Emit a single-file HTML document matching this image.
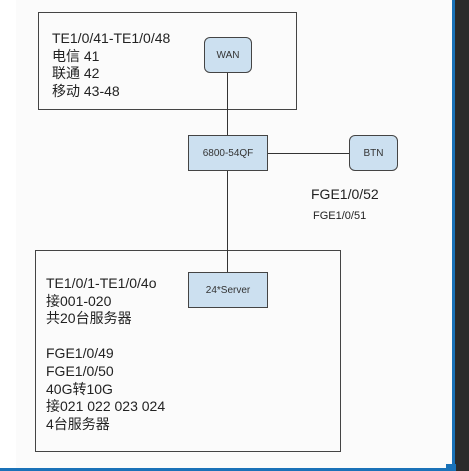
<!DOCTYPE html>
<html><head><meta charset="utf-8"><style>
*{margin:0;padding:0;box-sizing:border-box}
body{width:469px;height:471px;background:#fff;position:relative;overflow:hidden;font-family:"Liberation Sans","Noto Sans CJK SC",sans-serif;color:#222}
.a{position:absolute}
.box{position:absolute;border:1.3px solid #444}
.node{position:absolute;background:#cce0f0;border:1.3px solid #444;display:flex;align-items:center;justify-content:center;font-size:10px;color:#333}
.r{border-radius:6px}
.t{position:absolute;font-size:14px;line-height:17.6px;white-space:pre}
</style></head><body>
<div class="a" style="left:16px;top:0;width:436px;height:468px;background:#fbfbfb"></div>
<div class="box" style="left:38px;top:12px;width:259px;height:98px"></div>
<div class="box" style="left:35px;top:250px;width:306px;height:202px"></div>
<div class="a" style="left:227px;top:72px;width:1.3px;height:63px;background:#333"></div>
<div class="a" style="left:227px;top:170px;width:1.3px;height:102px;background:#333"></div>
<div class="a" style="left:267px;top:152.5px;width:82px;height:1.3px;background:#333"></div>
<div class="node r" style="left:204px;top:37px;width:48px;height:36px">WAN</div>
<div class="node" style="left:188px;top:135px;width:80px;height:36px">6800-54QF</div>
<div class="node r" style="left:349px;top:135px;width:49px;height:36px">BTN</div>
<div class="node" style="left:188px;top:272px;width:80px;height:36px">24*Server</div>
<div class="t" style="left:52px;top:30px">TE1/0/41-TE1/0/48
电信 41
联通 42
移动 43-48</div>
<div class="t" style="left:46px;top:275px">TE1/0/1-TE1/0/4o
接001-020
共20台服务器

FGE1/0/49
FGE1/0/50
40G转10G
接021 022 023 024
4台服务器</div>
<div class="t" style="left:311px;top:186px">FGE1/0/52</div>
<div class="t" style="left:313px;top:208px;font-size:11px">FGE1/0/51</div>
<div class="a" style="left:452px;top:0;width:3px;height:471px;background:#1a72b8"></div>
<div class="a" style="left:455px;top:0;width:14px;height:471px;background:#2b2b2b"></div>
<div class="a" style="left:0;top:468px;width:455px;height:3px;background:#1a72b8"></div>
<div class="a" style="left:446px;top:464px;width:10px;height:7px;background:#1a72b8"></div>
</body></html>
